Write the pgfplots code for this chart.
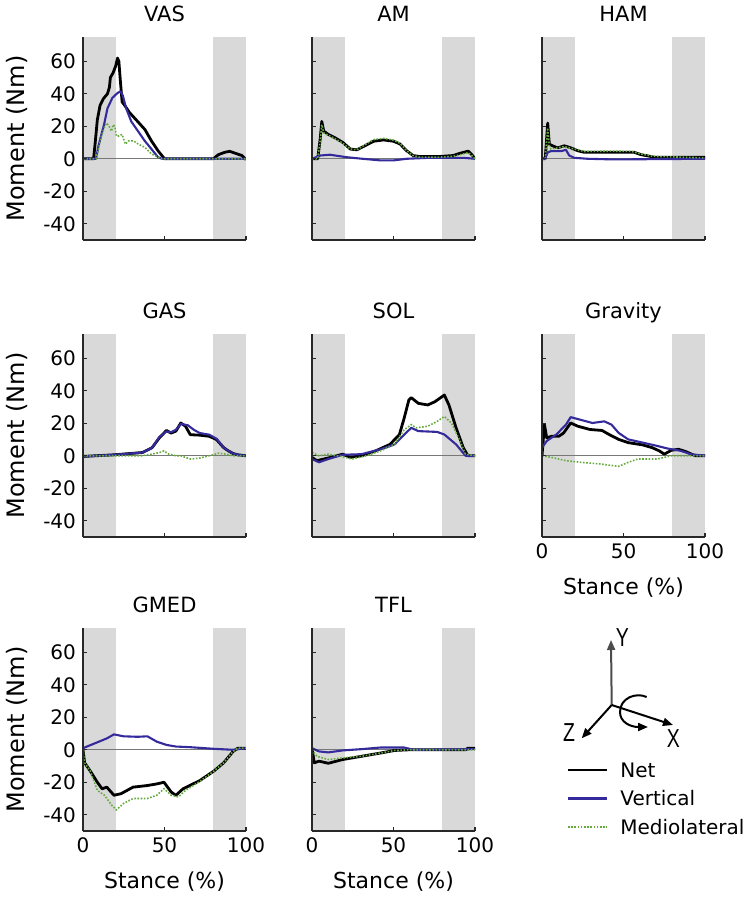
\documentclass[border=0pt]{standalone}
\usepackage{graphicx}
\usepackage{pgfplots}
\pgfplotsset{compat=1.18}
\usepackage{fontspec}
\setmainfont{DejaVu Sans}
\newfontfamily\lab{Liberation Sans}
\usetikzlibrary{arrows.meta}
\definecolor{netc}{RGB}{0,0,0}
\definecolor{vertc}{RGB}{52,42,155}
\definecolor{mlc}{RGB}{100,170,60}
\definecolor{bandc}{RGB}{217,217,217}
\definecolor{axc}{RGB}{40,40,40}
\definecolor{zeroc}{RGB}{120,120,120}

\pgfplotsset{
 every axis title/.style={at={(axis description cs:0.5,1.074)}, anchor=base, font=\fontsize{10.5}{12}\selectfont},
 panel/.style={
  scale only axis, width=81.5pt, height=101.5pt,
  xmin=0,xmax=100,ymin=-50,ymax=75,
  axis x line*=bottom, axis y line*=left,
  axis line style={line width=1.1pt, axc, -},
  xtick={0,50,100}, ytick={-40,-20,0,20,40,60},
  tick align=inside, major tick length=2pt,
  every tick/.style={axc, line width=0.6pt},
  axis on top,
  xticklabels={}, yticklabels={},
  ticklabel style={font=\fontsize{10}{12}\selectfont},
  ylabel style={at={(axis description cs:-0.405,0.5)}, anchor=center, font=\fontsize{12}{14}\selectfont},
  xlabel style={at={(axis description cs:0.5,-0.25)}, anchor=center, font=\fontsize{11}{13}\selectfont},
 },
 leftcol/.style={yticklabels={-40,-20,0,20,40,60}, ylabel={Moment (Nm)}},
 botrow/.style={xticklabels={0,50,100}, xlabel={Stance (\%)}},
 net/.style={netc, line width=1.4pt, line join=round},
 vert/.style={vertc, line width=1.05pt, line join=round},
 ml/.style={mlc, line width=0.8pt, dash pattern=on 0.8pt off 0.8pt},
}
\newcommand{\bands}{%
 \addplot[fill=bandc, draw=none] coordinates {(0,-50) (20,-50) (20,75) (0,75)};
 \addplot[fill=bandc, draw=none] coordinates {(80,-50) (100,-50) (100,75) (80,75)};
 \addplot[zeroc, line width=0.5pt] coordinates {(0,0) (100,0)};
}

\begin{document}
\begin{tikzpicture}
\useasboundingbox (0,0) rectangle (372.5pt,450pt);

% ---------------- VAS
\begin{axis}[panel, leftcol, title={VAS}, at={(41.5pt,330pt)}, anchor=south west]
\bands
\addplot[net] coordinates {(0,0) (6.5,0) (7.5,10) (8.8,24) (10.5,33) (12.5,37) (15,40) (16.2,44) (16.8,50) (18.5,53) (20,57) (21.2,62) (22,60) (23,47) (24,35) (25.5,33) (28.5,28.5) (33.5,23) (38,18) (42,11) (46,5) (50,0) (80,0) (83,2.5) (87,4) (90,4.6) (94,3.2) (97.5,2) (100,-0.5)};
\addplot[vert] coordinates {(0,0) (8,0) (9.5,8) (10.8,13) (12.9,21) (15,31) (18,37.5) (21.2,40.5) (23,41.5) (24.4,39) (26.5,31) (29.6,23) (33.75,17) (37.9,11) (42,6) (46,1) (48.5,0) (100,0)};
\addplot[ml] coordinates {(0,0) (8,0) (9.5,6) (11,13) (13,19) (14.5,22) (16,20) (17.5,17) (18.5,21) (19.5,20) (20.5,14) (22,14) (24,15) (26,9) (28,11) (31,11) (34,9) (38,7) (42,3) (46,1) (48,0) (100,0)};
\end{axis}

% ---------------- AM
\begin{axis}[panel, title={AM}, at={(156pt,330pt)}, anchor=south west]
\bands
\addplot[net] coordinates {(0,0) (3.5,0) (5,12) (6,23) (7.2,17) (10,15) (14,13) (19,10) (23.5,6) (27.5,5.5) (31.5,7.5) (37.8,10.8) (43.9,11.6) (50,10.8) (54,9.1) (58,5) (62,2) (66,1.4) (78,1.4) (86.7,2) (90.8,3.4) (95.9,4.7) (98,2.6) (100,0)};
\addplot[vert] coordinates {(0,0) (5,2) (11,2.5) (21,1) (31,0) (42,-1) (50,-1) (58,0) (72,0.6) (93,0.6) (100,0)};
\addplot[ml] coordinates {(0,0) (3.5,0) (5,11) (6,21) (7.2,16) (10,14.5) (14,12.5) (19,9.5) (23.5,6) (27.5,5.5) (31.5,8) (37.8,11.8) (43.9,12.6) (50,11.5) (54,9.5) (58,5) (62,2) (66,1) (78,1) (86.7,1.5) (90.8,2.5) (95.9,3.8) (98,2) (100,0)};
\end{axis}

% ---------------- HAM
\begin{axis}[panel, title={HAM}, at={(271pt,330pt)}, anchor=south west]
\bands
\addplot[net] coordinates {(0,0) (2,0) (3,15) (3.5,22) (4.5,9) (6.5,8) (9.6,6.7) (13.7,8) (17.8,6.7) (21.8,5) (25.9,4) (44,4) (56.5,4) (60.6,2.6) (68.8,1) (100,1)};
\addplot[vert] coordinates {(0,0) (2,0) (3.5,4) (5.5,4.7) (11.6,4.7) (14.7,5.5) (16.7,2) (19.8,0.6) (28,0) (44,-0.4) (100,0)};
\addplot[ml] coordinates {(0,0) (2,0) (3,13) (3.5,19) (4.5,8) (5.5,6) (13.7,7.5) (19.8,6) (26,4.5) (44,4.7) (55,4.5) (60.6,3) (68,1.5) (100,0.6)};
\end{axis}

% ---------------- GAS
\begin{axis}[panel, leftcol, title={GAS}, at={(41.5pt,181.5pt)}, anchor=south west]
\bands
\addplot[net] coordinates {(0,-0.4) (19,0.6) (36.5,2) (42.4,5) (46.8,11) (51.2,15.6) (54,14) (57,15.2) (60,20.2) (62.9,18.2) (65.8,13) (71.6,12.7) (77.5,12) (81.9,10) (86.3,5) (89.2,3) (92.1,1.4) (95,0.6) (100,0)};
\addplot[vert] coordinates {(0,-0.4) (19,0.6) (36.5,2) (42.4,5) (46.8,11.5) (51.2,15) (54,14.5) (57,16) (60,19.6) (64.3,18.8) (68,16) (71.6,14) (77.5,13) (81.9,10.5) (86.3,5) (89.2,3) (92.1,1.4) (95,0.6) (100,0)};
\addplot[ml] coordinates {(0,0) (36,0) (42,1) (47,2) (49.7,3) (52.6,1) (57,0) (60,0) (65.8,-2) (71.6,-1.4) (77.5,0) (83.3,1.6) (87.7,1) (92,0) (100,0)};
\end{axis}

% ---------------- SOL
\begin{axis}[panel, title={SOL}, at={(156pt,181.5pt)}, anchor=south west]
\bands
\addplot[net] coordinates {(0,-1) (2.9,-3) (7.2,-2) (13,-0.6) (18.8,1) (23.2,-1) (30.4,0) (39,3) (47.8,7) (53.6,13) (56.5,23) (59.4,34.3) (60.9,35.8) (65.2,32.3) (71,31.3) (75.4,33.3) (81.2,37.4) (84,31.3) (88.4,17.2) (92.8,5) (95.7,0) (100,0)};
\addplot[vert] coordinates {(0,-2) (4.3,-4) (10,-2) (18.8,0.6) (30.4,1) (42,4) (50.7,7) (56.5,13) (60.9,17.2) (65.2,15.2) (76.8,14.7) (81.2,13.1) (88.4,7) (94.2,0) (100,0)};
\addplot[ml] coordinates {(0,2) (4.3,0) (10,1) (18.8,-0.6) (24.6,-2) (33.3,0) (42,3) (50.7,7) (56.5,16) (61,19.2) (63.8,17.2) (71,18.2) (76.8,21.2) (81.2,24.2) (85.5,20.2) (89.9,11.1) (94.2,1) (100,0)};
\end{axis}

% ---------------- Gravity
\begin{axis}[panel, botrow, title={Gravity}, at={(271pt,181.5pt)}, anchor=south west]
\bands
\addplot[net] coordinates {(0,0) (1.5,19.2) (2.9,11) (5.9,12) (10.3,12) (13.2,14) (17.6,20.2) (22,18.2) (29.4,16.2) (36.8,15.6) (41.2,13.1) (47,10.1) (52.9,8.1) (61.8,6.7) (67.6,5) (72,3) (75,1) (79.4,3.4) (83.8,4) (88.2,2.6) (94,0) (100,0)};
\addplot[vert] coordinates {(0,5) (2.9,9.1) (8.8,13.1) (14.7,19.2) (17.6,23.8) (23.5,22.2) (30.9,20.2) (38.2,21.2) (42.6,19.2) (47,14.1) (52.9,10.1) (61.8,8.1) (70.6,6.1) (76.5,4.6) (85.3,3) (91.2,1) (100,0)};
\addplot[ml] coordinates {(0,0) (5.9,-1) (14.7,-3) (23.5,-4) (35.3,-5) (47,-6.5) (52.9,-4) (58.8,-2) (70.6,-2) (79.4,0) (100,0)};
\end{axis}

% ---------------- GMED
\begin{axis}[panel, leftcol, botrow, title={GMED}, at={(41.5pt,34.5pt)}, anchor=south west]
\bands
\addplot[net] coordinates {(0,0) (1,-8) (4.4,-13) (8.8,-20) (11.7,-24) (14.6,-23) (19,-28) (23.4,-27) (30.7,-23) (39.5,-22) (45.3,-21) (49.7,-20) (54.1,-26) (57,-28) (61.4,-24) (71.6,-19) (80.4,-13) (86.3,-8) (92.1,-1) (95,1) (100,1)};
\addplot[vert] coordinates {(0,1) (7.3,4) (14.6,7) (19,9.5) (24.9,8.3) (33.6,8) (39.5,8.3) (45.3,5) (51.2,3) (57,2) (65.8,1.6) (80.4,0.6) (92,0) (100,1)};
\addplot[ml] coordinates {(0,0) (1,-8) (4.4,-13) (8.8,-25) (13.2,-28) (17.5,-34) (20.5,-37) (24.9,-33) (30.7,-30) (39.5,-30) (45.3,-28) (49.7,-24) (54.1,-28) (58.5,-29) (62.9,-25) (71.6,-19.5) (80.4,-13) (86.3,-8) (92.1,-1) (95,1) (100,1)};
\end{axis}

% ---------------- TFL
\begin{axis}[panel, botrow, title={TFL}, at={(156pt,34.5pt)}, anchor=south west]
\bands
\addplot[net] coordinates {(0,1) (1.4,-8) (4.3,-7) (10,-8.3) (18.8,-6) (30.4,-4) (42,-2) (50.7,-0.4) (59.4,0) (94.2,0) (95.7,1) (100,1)};
\addplot[vert] coordinates {(0,1) (4.3,-1) (10,-1.6) (18.8,-0.4) (30.4,0.4) (42,1.4) (56.5,1.4) (62.3,0) (100,0.4)};
\addplot[ml] coordinates {(0,0) (2.9,-4) (10,-6) (18.8,-5) (30.4,-4) (42,-2) (50.7,-0.4) (59.4,0) (100,0)};
\end{axis}

% ---------------- coordinate system sketch
\draw[line width=1pt, gray!60!black, -{Triangle[length=5pt,width=4pt]}] (305.85pt,97.5pt) -- (305.5pt,130pt);
\draw[line width=1pt, -{Triangle[length=5pt,width=4pt]}] (305.85pt,97.5pt) -- (290.85pt,80.85pt);
\draw[line width=1pt, -{Triangle[length=5pt,width=4pt]}] (305.85pt,97.5pt) -- (336.5pt,87.5pt);
\draw[line width=1pt, -{Triangle[length=5pt,width=4pt]}] (323.3pt,101.5pt) .. controls (318pt,104pt) and (310pt,101pt) .. (310pt,94pt) .. controls (310pt,89pt) and (315pt,86.5pt) .. (324pt,86.5pt);
\node[font=\lab\fontsize{13}{14}\selectfont, inner sep=0pt] at (311.2pt,131.3pt) {\scalebox{0.75}[1]{Y}};
\node[font=\lab\fontsize{13}{14}\selectfont, inner sep=0pt] at (284.5pt,83.8pt) {\scalebox{0.75}[1]{Z}};
\node[font=\lab\fontsize{13}{14}\selectfont, inner sep=0pt] at (336.7pt,80.8pt) {\scalebox{0.75}[1]{X}};

% ---------------- legend
\draw[netc, line width=1.4pt] (284pt,65pt) -- (303.5pt,65pt);
\draw[vertc, line width=1.4pt] (284pt,50.75pt) -- (303.5pt,50.75pt);
\draw[mlc, line width=0.8pt, dash pattern=on 0.8pt off 0.8pt] (284pt,36.5pt) -- (303.5pt,36.5pt);
\node[anchor=west, inner sep=0pt, font=\fontsize{10}{12}\selectfont] at (310pt,65pt) {Net};
\node[anchor=west, inner sep=0pt, font=\fontsize{10}{12}\selectfont] at (310pt,50.75pt) {Vertical};
\node[anchor=west, inner sep=0pt, font=\fontsize{10}{12}\selectfont] at (310pt,36.5pt) {Mediolateral};
\end{tikzpicture}
\end{document}
